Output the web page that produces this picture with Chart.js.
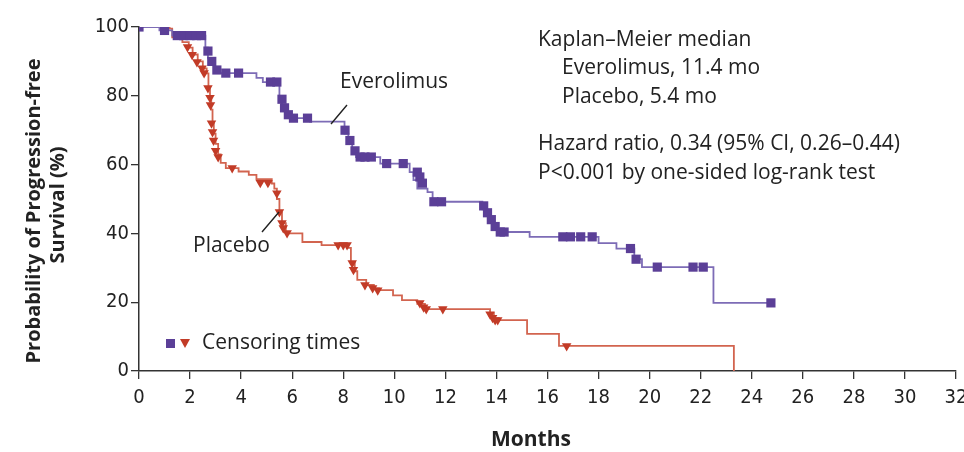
<!DOCTYPE html>
<html>
<head>
<meta charset="utf-8">
<script src="https://cdn.jsdelivr.net/npm/chart.js@4.4.0/dist/chart.umd.min.js"></script>
<style>
  html, body { margin: 0; padding: 0; background: #fff; }
</style>
</head>
<body>
<canvas id="km" width="964" height="452"></canvas>
<script>
// Curva Everolimus: escalones (meses, % libre de progresion)
const everoTime = [0, 0.8, 1.3, 2.6, 2.7, 2.8, 2.95, 4.6, 4.85, 5.5, 5.6, 5.75, 5.95, 6.7, 8.05, 8.2, 8.35, 8.5, 9.45, 10.6, 10.75, 10.9, 11.3, 11.5, 13.45, 13.6, 13.75, 13.9, 14.05, 15.3, 18.0, 18.7, 19.4, 19.7, 22.5, 24.75];
const everoSurv = [100, 99, 97.5, 94, 91, 89, 86.6, 85.2, 84, 80, 77, 75, 73.5, 72.5, 69, 66, 64, 62.2, 60.3, 57.8, 55.5, 53, 52, 49.2, 47, 45, 43, 41.5, 40.4, 39, 37.2, 35.6, 32.5, 30.2, 19.8, 19.8];
// censuras Everolimus
const everoCensT = [0, 1.0, 1.5, 1.75, 2.0, 2.25, 2.45, 2.7, 2.85, 3.05, 3.4, 3.9, 5.15, 5.4, 5.6, 5.7, 5.85, 6.05, 6.6, 8.07, 8.26, 8.46, 8.66, 8.85, 9.1, 9.7, 10.35, 10.9, 11.0, 11.1, 11.55, 11.85, 13.5, 13.65, 13.8, 13.95, 14.15, 14.3, 16.6, 16.9, 17.3, 17.75, 19.25, 19.47, 20.3, 21.7, 22.1, 24.75];
const everoCensS = [100, 99, 97.5, 97.5, 97.5, 97.5, 97.5, 93, 90, 87.5, 86.6, 86.6, 84, 84, 79, 76.5, 74.5, 73.5, 73.5, 70, 67, 64, 62.2, 62.2, 62.2, 60.3, 60.3, 57.8, 56.4, 54.6, 49.2, 49.2, 48, 46, 44, 42, 40.4, 40.4, 39, 39, 39, 39, 35.6, 32.5, 30.2, 30.2, 30.2, 19.8];

// Curva Placebo
const placeboTime = [0, 1.2, 1.3, 1.7, 1.95, 2.1, 2.3, 2.5, 2.65, 2.72, 2.78, 2.83, 2.88, 2.93, 3.0, 3.1, 3.2, 3.4, 3.9, 4.3, 4.6, 5.2, 5.3, 5.4, 5.5, 5.6, 5.75, 6.4, 7.15, 8.15, 8.3, 8.45, 8.55, 8.9, 9.2, 9.4, 9.95, 10.3, 10.9, 11.2, 13.75, 13.9, 15.2, 16.45, 23.3];
const placeboSurv = [100, 99.5, 97, 95.6, 94, 92, 90, 88, 86.5, 82, 79.5, 76, 72, 69, 66, 63, 60.5, 59, 58, 57, 55.8, 54.5, 53, 50, 46, 43, 40, 37.5, 36.6, 35.8, 31.5, 29, 26.5, 25, 24, 23.5, 22, 20.6, 19.5, 18, 16.9, 14.8, 10.8, 7.3, 0];
// censuras Placebo
const placeboCensT = [1.9, 2.08, 2.27, 2.47, 2.55, 2.7, 2.78, 2.8, 2.84, 2.88, 2.92, 3.0, 3.1, 3.65, 4.75, 5.05, 5.4, 5.5, 5.6, 5.65, 5.8, 7.8, 8.0, 8.15, 8.35, 8.4, 8.85, 9.15, 9.35, 11.0, 11.15, 11.25, 11.9, 13.75, 13.85, 13.95, 14.05, 16.75];
const placeboCensS = [94.2, 91.9, 89.8, 88, 86.6, 82.3, 79.4, 77.3, 72, 69.5, 67, 64, 62.2, 59, 54.7, 54.7, 51.7, 46.2, 43, 41.6, 40.1, 36.6, 36.6, 36.6, 31.4, 29.4, 25, 24.1, 23.5, 19.8, 18.5, 18, 18, 16.5, 15.5, 14.8, 14.8, 7.3];

// Ejes
const xTicks = [0, 2, 4, 6, 8, 10, 12, 14, 16, 18, 20, 22, 24, 26, 28, 30, 32];
const yTicks = [0, 20, 40, 60, 80, 100];

const purple = '#5b3f97';
const purpleLine = '#7d6cb6';
const red = '#c23b27';
const redLine = '#d2644f';

function pts(xs, ys) {
  return xs.map((x, i) => ({ x: x, y: ys[i] }));
}

// Textos y leyenda
const textos = {
  id: 'textos',
  afterDraw(chart) {
    const c = chart.ctx;
    c.save();
    c.fillStyle = '#222';
    c.textBaseline = 'middle';
    c.textAlign = 'left';
    c.font = '21px "Open Sans"';
    c.fillText('Kaplan\u2013Meier median', 538, 40);
    c.fillText('Everolimus, 11.4 mo', 562, 68);
    c.fillText('Placebo, 5.4 mo', 562, 97);
    c.fillText('Hazard ratio, 0.34 (95% CI, 0.26\u20130.44)', 538, 144);
    c.fillText('P<0.001 by one-sided log-rank test', 538, 173);
    c.fillText('Everolimus', 340, 82);
    c.fillText('Placebo', 193, 246);
    c.fillText('Censoring times', 202, 343);

    // lineas guia
    c.strokeStyle = '#222';
    c.lineWidth = 1.4;
    c.beginPath();
    c.moveTo(347, 105); c.lineTo(331, 124);
    c.moveTo(262, 232); c.lineTo(279, 212);
    c.stroke();

    // simbolos de la leyenda
    c.fillStyle = purple;
    c.fillRect(166, 339, 9, 9);
    c.fillStyle = red;
    c.beginPath();
    c.moveTo(180, 339); c.lineTo(190, 339); c.lineTo(185, 348);
    c.closePath();
    c.fill();

    // titulos de ejes
    c.fillStyle = '#222';
    c.font = 'bold 21px "Open Sans"';
    c.textAlign = 'center';
    c.fillText('Months', 531, 440);
    c.font = 'bold 20px "Open Sans"';
    c.save();
    c.translate(34, 211);
    c.rotate(-Math.PI / 2);
    c.fillText('Probability of Progression-free', 0, 0);
    c.restore();
    c.save();
    c.translate(58, 205);
    c.rotate(-Math.PI / 2);
    c.fillText('Survival (%)', 0, 0);
    c.restore();
    c.restore();
  }
};

const ctx = document.getElementById('km');

const tickFont = { family: '"Liberation Sans Narrow", "DejaVu Sans Condensed", sans-serif', size: 20 };

new Chart(ctx, {
  type: 'line',
  data: {
    datasets: [
      {
        data: pts(everoCensT, everoCensS),
        showLine: false,
        pointStyle: 'rect',
        pointRadius: 6.5,
        backgroundColor: purple,
        borderColor: purple,
        borderWidth: 0
      },
      {
        data: pts(placeboCensT, placeboCensS),
        showLine: false,
        pointStyle: 'triangle',
        rotation: 180,
        pointRadius: 5.5,
        backgroundColor: red,
        borderColor: red,
        borderWidth: 0
      },
      {
        data: pts(everoTime, everoSurv),
        stepped: true,
        borderColor: purpleLine,
        borderWidth: 1.8,
        pointRadius: 0,
        fill: false
      },
      {
        data: pts(placeboTime, placeboSurv),
        stepped: true,
        borderColor: redLine,
        borderWidth: 1.8,
        pointRadius: 0,
        fill: false
      }
    ]
  },
  options: {
    responsive: false,
    devicePixelRatio: 1,
    animation: false,
    layout: { padding: { top: 27, right: 8, left: 0, bottom: 0 } },
    plugins: {
      legend: { display: false },
      tooltip: { enabled: false }
    },
    scales: {
      x: {
        type: 'linear',
        min: 0,
        max: 32,
        afterBuildTicks: (s) => { s.ticks = xTicks.map(v => ({ value: v })); },
        afterFit: (s) => { s.height = 81; s.paddingRight = 0; s.paddingLeft = 0; },
        ticks: { color: '#222', font: tickFont, padding: 7, maxRotation: 0 },
        grid: { drawOnChartArea: false, drawTicks: true, tickLength: 8, color: '#333', lineWidth: 1.3 },
        border: { color: '#333', width: 1.5 }
      },
      y: {
        min: 0,
        max: 100,
        afterBuildTicks: (s) => { s.ticks = yTicks.map(v => ({ value: v })); },
        afterFit: (s) => { s.width = 139; s.paddingTop = 0; s.paddingBottom = 0; },
        ticks: { color: '#222', font: tickFont, padding: 2 },
        grid: { drawOnChartArea: false, drawTicks: true, tickLength: 8, color: '#333', lineWidth: 1.3 },
        border: { color: '#333', width: 1.5 }
      }
    }
  },
  plugins: [textos]
});
</script>
</body>
</html>
